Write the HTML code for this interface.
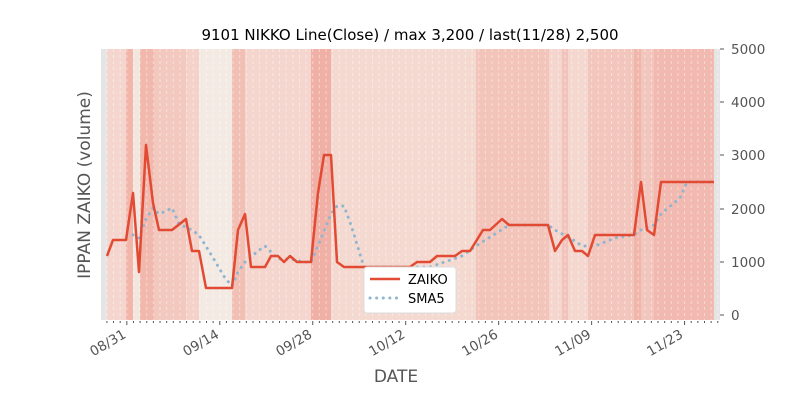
<!DOCTYPE html><html><head><style>body{margin:0;background:#fff}svg{font-family:"DejaVu Sans","Liberation Sans",sans-serif}</style></head><body>
<svg width="800" height="400" xmlns="http://www.w3.org/2000/svg">
<rect width="800" height="400" fill="#fff"/>
<g id="bands">
<rect x="101" y="49" width="619" height="271" fill="#e5e5e5"/>
<rect x="107" y="49" width="19" height="271" fill="#f4d6cf"/>
<rect x="126" y="49" width="7" height="271" fill="#f1b5aa"/>
<rect x="133" y="49" width="7" height="271" fill="#f3e6df"/>
<rect x="140" y="49" width="14" height="271" fill="#f1b8ae"/>
<rect x="154" y="49" width="32" height="271" fill="#f2c8bf"/>
<rect x="186" y="49" width="13" height="271" fill="#f4d2ca"/>
<rect x="199" y="49" width="33" height="271" fill="#f3ebe3"/>
<rect x="232" y="49" width="13" height="271" fill="#f2bfb5"/>
<rect x="245" y="49" width="66" height="271" fill="#f4d6ce"/>
<rect x="311" y="49" width="20" height="271" fill="#f0b0a6"/>
<rect x="331" y="49" width="145" height="271" fill="#f4d9d1"/>
<rect x="476" y="49" width="73" height="271" fill="#f2c4ba"/>
<rect x="549" y="49" width="13" height="271" fill="#f4d6cf"/>
<rect x="562" y="49" width="6" height="271" fill="#f2c3ba"/>
<rect x="568" y="49" width="20" height="271" fill="#f4d7cf"/>
<rect x="588" y="49" width="46" height="271" fill="#f2c6bc"/>
<rect x="634" y="49" width="7" height="271" fill="#f1b6ab"/>
<rect x="641" y="49" width="13" height="271" fill="#f2c6bc"/>
<rect x="654" y="49" width="60" height="271" fill="#f1b9af"/>
</g>
<g stroke="#fff" stroke-opacity="0.45" stroke-width="1" stroke-dasharray="3,3" id="grid"></g>
<polyline fill="none" stroke="#8fb5cf" stroke-width="3" stroke-dasharray="0.1,6.5" stroke-linecap="round" points="133,235 139,238 146,219 153,208 159,214 166,211 172,208 179,224 192,230 199,235 212,256 225,278 232,286 238,272 245,262 258,251 265,246 278,259 290,259 304,262 311,262 318,246 331,214 337,206 344,206 351,225 364,267 410,267 430,267 462,256 476,246 509,225 548,225 555,230 575,241 582,246 595,246 615,238 634,235 641,230 654,225 661,214 674,203 680,198 687,182 714,182"/>
<polyline fill="none" stroke="#e24a33" stroke-width="2.5" stroke-linejoin="round" points="107,256 113,240 126,240 133,193 139,272 146,145 153,203 159,230 172,230 186,219 192,251 199,251 206,288 232,288 238,230 245,214 251,267 265,267 271,256 278,256 284,262 290,256 297,262 311,262 318,193 324,155 331,155 337,262 344,267 410,267 417,262 430,262 437,256 455,256 462,251 470,251 483,230 490,230 502,219 509,225 548,225 555,251 562,240 568,235 575,251 582,251 588,256 595,235 634,235 641,182 647,230 654,235 661,182 714,182"/>
<g fill="#555" font-size="13.5" id="yt">
<text x="731" y="54">5000</text><text x="731" y="107">4000</text><text x="731" y="160">3000</text><text x="731" y="214">2000</text><text x="731" y="267">1000</text><text x="731" y="320">0</text>
</g>
<g stroke="#555"><line x1="720" y1="49" x2="724" y2="49"/><line x1="720" y1="102" x2="724" y2="102"/><line x1="720" y1="155" x2="724" y2="155"/><line x1="720" y1="209" x2="724" y2="209"/><line x1="720" y1="262" x2="724" y2="262"/><line x1="720" y1="315" x2="724" y2="315"/></g>
<g id="xt" stroke="#555"></g>
<g fill="#555" font-size="13.5">
<text transform="translate(127,337) rotate(-30)" text-anchor="end">08/31</text>
<text transform="translate(220,337) rotate(-30)" text-anchor="end">09/14</text>
<text transform="translate(313,337) rotate(-30)" text-anchor="end">09/28</text>
<text transform="translate(406,337) rotate(-30)" text-anchor="end">10/12</text>
<text transform="translate(499,337) rotate(-30)" text-anchor="end">10/26</text>
<text transform="translate(592,337) rotate(-30)" text-anchor="end">11/09</text>
<text transform="translate(684,337) rotate(-30)" text-anchor="end">11/23</text>
</g>
<text x="410" y="40" font-size="15" text-anchor="middle" fill="#000">9101 NIKKO Line(Close) / max 3,200 / last(11/28) 2,500</text>
<text x="396" y="382" font-size="17" text-anchor="middle" fill="#555">DATE</text>
<text transform="translate(90,185) rotate(-90)" font-size="17" text-anchor="middle" fill="#555">IPPAN ZAIKO (volume)</text>
<rect x="364" y="267" width="92" height="46" rx="3" fill="#fff" stroke="#ddd"/>
<line x1="370" y1="279" x2="400" y2="279" stroke="#e24a33" stroke-width="2.5"/>
<line x1="370" y1="298" x2="400" y2="298" stroke="#8fb5cf" stroke-width="3" stroke-dasharray="0.1,6.5" stroke-linecap="round"/>
<text x="408" y="284" font-size="13">ZAIKO</text>
<text x="408" y="303" font-size="13">SMA5</text>
<script>
var g=document.getElementById('grid'),t=document.getElementById('xt'),ns='http://www.w3.org/2000/svg';
for(var d=0;d<=92;d++){var x=106.9+d*6.64;
var l=document.createElementNS(ns,'line');l.setAttribute('x1',x);l.setAttribute('x2',x);l.setAttribute('y1',49);l.setAttribute('y2',320);g.appendChild(l);
var k=document.createElementNS(ns,'line');var maj=((d-3)%14==0);k.setAttribute('x1',x);k.setAttribute('x2',x);k.setAttribute('y1',321);k.setAttribute('y2',maj?325:323);t.appendChild(k);}
</script>
</svg></body></html>
